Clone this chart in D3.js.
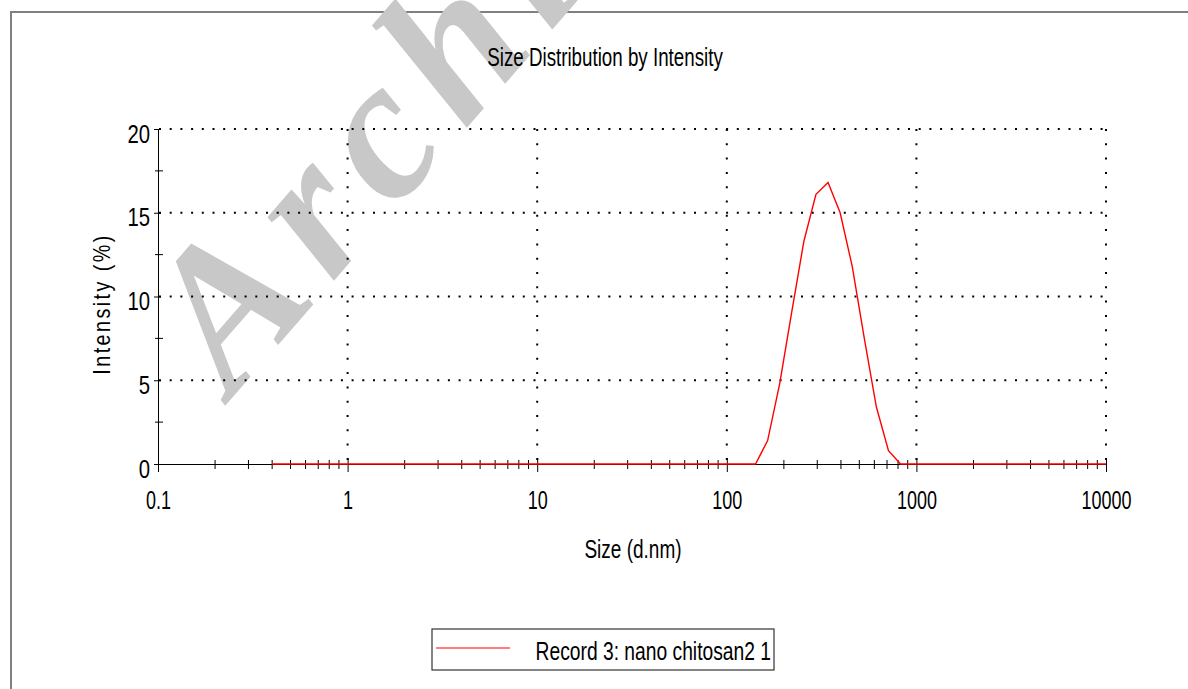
<!DOCTYPE html>
<html>
<head>
<meta charset="utf-8">
<script src="https://cdn.jsdelivr.net/npm/d3@7"></script>
<style>
  body { margin: 0; background: #fff; }
  svg { display: block; }
  text { font-family: "Liberation Sans", Arial, sans-serif; fill: #000; }
</style>
</head>
<body>
<div id="container"></div>
<script>
// size classes (d.nm) of the instrument
const sizes = [
    0.4000, 0.4632, 0.5365, 0.6213, 0.7195, 0.8332, 0.9649, 1.117, 1.294, 1.499,
    1.736, 2.010, 2.328, 2.696, 3.122, 3.615, 4.187, 4.849, 5.615, 6.503,
    7.531, 8.721, 10.10, 11.70, 13.54, 15.69, 18.17, 21.04, 24.36, 28.21,
    32.67, 37.84, 43.82, 50.75, 58.77, 68.06, 78.82, 91.28, 105.7, 122.4,
    141.8, 164.2, 190.1, 220.2, 255.0, 295.3, 342.0, 396.1, 458.7, 531.2,
    615.1, 712.4, 825.0, 955.4, 1106, 1281, 1484, 1718, 1990, 2305,
    2669, 3091, 3580, 4145, 4801, 5560, 6439, 7456, 8635, 10000
];
// intensity (%) for Record 3
const intensity = [
    0, 0, 0, 0, 0, 0, 0, 0, 0, 0,
    0, 0, 0, 0, 0, 0, 0, 0, 0, 0,
    0, 0, 0, 0, 0, 0, 0, 0, 0, 0,
    0, 0, 0, 0, 0, 0, 0, 0, 0, 0,
    0, 1.4, 4.8, 9.1, 13.3, 16.1, 16.8, 15.0, 11.8, 7.5,
    3.4, 0.8, 0, 0, 0, 0, 0, 0, 0, 0,
    0, 0, 0, 0, 0, 0, 0, 0, 0, 0
];

const yTicks = [0, 5, 10, 15, 20];
const yMinor = [2.5, 7.5, 12.5, 17.5];
const xTicks = [0.1, 1, 10, 100, 1000, 10000];
const xTickLabels = ['0.1', '1', '10', '100', '1000', '10000'];
const xMinorMult = [2, 3, 4, 5, 6, 7, 8, 9];

const title = 'Size Distribution by Intensity';
const xTitle = 'Size (d.nm)';
const yTitle = 'Intensity (%)';
const seriesName = 'Record 3: nano chitosan2 1';

const W = 1188, H = 689;
const pLeft = 158, pRight = 1106, pTop = 129, pBottom = 464;

const x = d3.scaleLog().domain([0.1, 10000]).range([pLeft, pRight]);
const y = d3.scaleLinear().domain([0, 20]).range([pBottom, pTop]);

const svg = d3.select('#container').append('svg')
    .attr('width', W)
    .attr('height', H);

// squeeze text horizontally, the original uses a narrow face
function narrow(sel, k) {
    sel.each(function () {
        const len = this.getComputedTextLength();
        d3.select(this).attr('textLength', len * k).attr('lengthAdjust', 'spacingAndGlyphs');
    });
}

// outer frame
svg.append('path')
    .attr('d', `M11 ${H} V12 H${W}`)
    .style('fill', 'none')
    .style('stroke', '#808080')
    .style('stroke-width', 2);

// watermark, over the frame but under the chart
svg.append('text')
    .attr('transform', 'translate(232 398) rotate(-49)')
    .style('font-family', '"Liberation Serif", "DejaVu Serif", serif')
    .style('font-weight', 'bold')
    .style('font-style', 'italic')
    .style('font-size', '200px')
    .style('letter-spacing', '18px')
    .style('fill', '#c8c8c8')
    .text('Archive of SID');

// grid
const minorX = [];
xTicks.slice(0, -1).forEach((d) => xMinorMult.forEach((m) => minorX.push(d * m)));

svg.append('g').selectAll('line').data(yTicks.slice(1)).enter().append('line')
    .attr('x1', pLeft + 1).attr('x2', pRight + 1)
    .attr('y1', (d) => y(d)).attr('y2', (d) => y(d))
    .style('stroke', '#000')
    .style('stroke-width', 2)
    .style('stroke-dasharray', '2 8.7');

svg.append('g').selectAll('line').data(xTicks.slice(1)).enter().append('line')
    .attr('x1', (d) => x(d)).attr('x2', (d) => x(d))
    .attr('y1', pTop).attr('y2', pBottom)
    .style('stroke', '#000')
    .style('stroke-width', 2)
    .style('stroke-dasharray', '2 12.3');

// x axis
const xAxis = svg.append('g')
    .attr('transform', `translate(0 ${pBottom})`)
    .call(d3.axisBottom(x).tickValues(xTicks).tickFormat((d, i) => xTickLabels[i]).tickSizeOuter(0).tickPadding(21));
xAxis.select('.domain').style('stroke', '#000');
xAxis.selectAll('.tick line').attr('y1', -6).attr('y2', 8);
xAxis.selectAll('.tick text').style('font-size', '25px').style('font-family', null).call(narrow, 0.72);

svg.append('g').attr('transform', `translate(0 ${pBottom})`)
    .selectAll('line').data(minorX).enter().append('line')
    .attr('x1', (d) => x(d)).attr('x2', (d) => x(d))
    .attr('y1', -4).attr('y2', 5)
    .style('stroke', '#000');

// y axis
const yAxis = svg.append('g')
    .attr('transform', `translate(${pLeft} 0)`)
    .call(d3.axisLeft(y).tickValues(yTicks).tickSizeOuter(0).tickPadding(2));
yAxis.select('.domain').style('stroke', '#000');
yAxis.selectAll('.tick line').attr('x2', -4).attr('x1', 3);
yAxis.selectAll('.tick text').style('font-size', '26px').style('font-family', null)
    .attr('dy', '0.5em').call(narrow, 0.78);

svg.append('g').attr('transform', `translate(${pLeft} 0)`)
    .selectAll('line').data(yMinor).enter().append('line')
    .attr('x1', -3).attr('x2', 5)
    .attr('y1', (d) => y(d)).attr('y2', (d) => y(d))
    .style('stroke', '#000');

// series
const line = d3.line().x((d) => x(d[0])).y((d) => y(d[1]));
svg.append('path')
    .datum(sizes.map((s, i) => [s, intensity[i]]))
    .attr('d', line)
    .style('fill', 'none')
    .style('stroke', '#ff0000')
    .style('stroke-width', 1.4);

// titles
svg.append('text')
    .attr('x', 605).attr('y', 66)
    .attr('text-anchor', 'middle')
    .style('font-size', '25px')
    .text(title)
    .call(narrow, 0.75);

svg.append('text')
    .attr('x', 633).attr('y', 558)
    .attr('text-anchor', 'middle')
    .style('font-size', '25px')
    .text(xTitle)
    .call(narrow, 0.76);

svg.append('text')
    .attr('transform', `translate(110 304) rotate(-90)`)
    .attr('text-anchor', 'middle')
    .style('font-size', '24px')
    .style('letter-spacing', '3px')
    .text(yTitle)
    .call(narrow, 0.82);

// legend
const legend = svg.append('g').attr('transform', 'translate(432 629)');
legend.append('rect')
    .attr('width', 342).attr('height', 41)
    .style('fill', '#fff')
    .style('stroke', '#333')
    .style('stroke-width', 1.2);
legend.append('line')
    .attr('x1', 4).attr('x2', 78).attr('y1', 19).attr('y2', 19)
    .style('stroke', '#ff0000')
    .style('stroke-width', 1.2);
legend.append('text')
    .attr('x', 339).attr('y', 31)
    .attr('text-anchor', 'end')
    .style('font-size', '25px')
    .text(seriesName)
    .call(narrow, 0.77);
</script>
</body>
</html>
